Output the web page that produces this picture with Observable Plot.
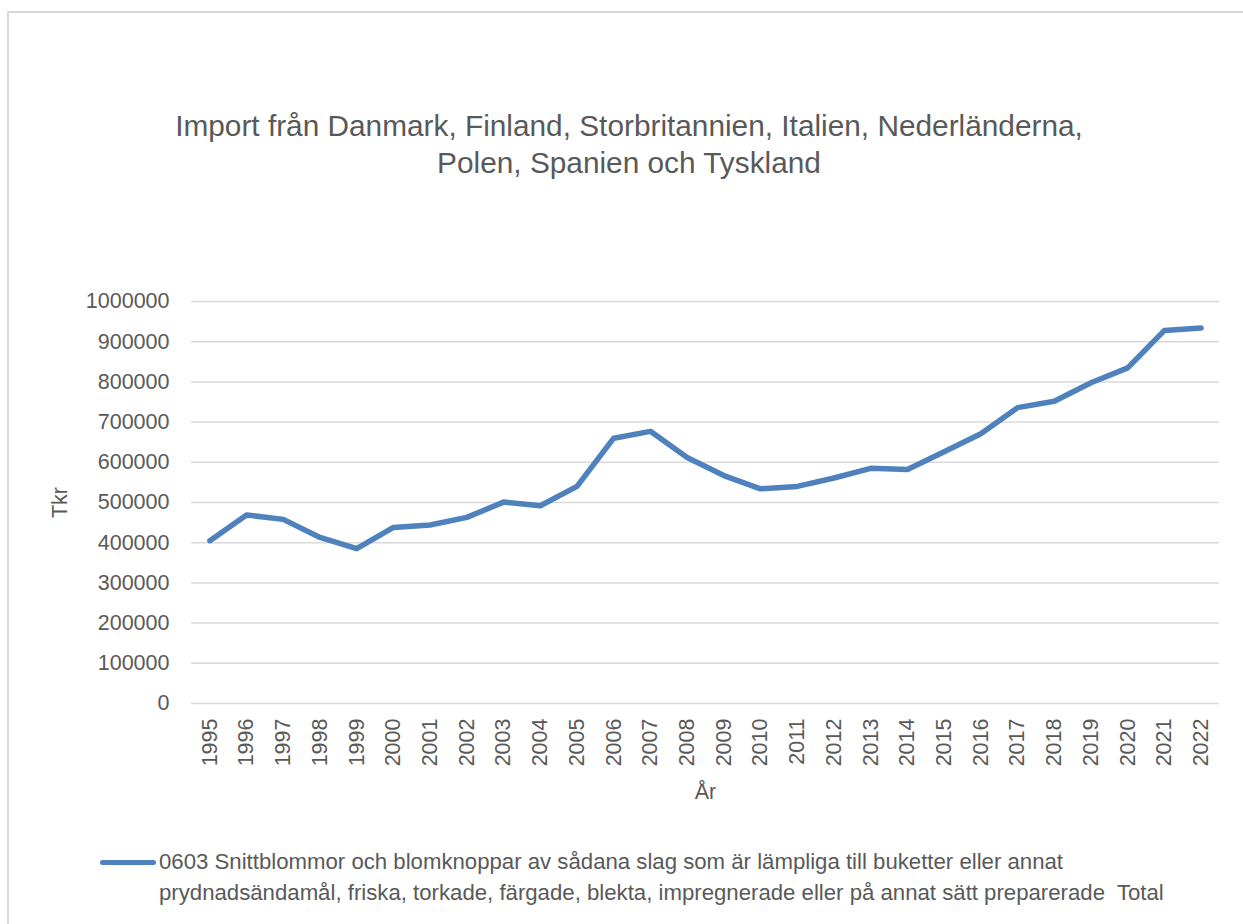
<!DOCTYPE html>
<html>
<head>
<meta charset="utf-8">
<script src="https://cdn.jsdelivr.net/npm/d3@7"></script>
<script src="https://cdn.jsdelivr.net/npm/@observablehq/plot@0.6"></script>
<style>
  html, body { margin: 0; padding: 0; background: #fff; }
  body { width: 1243px; height: 924px; position: relative; overflow: hidden; font-family: "Liberation Sans", Arial, sans-serif; color: #595959; }
  #frame { position: absolute; left: 7px; top: 11px; width: 1250px; height: 930px; border: 2px solid #d9d9d9; box-sizing: border-box; }
  #title { position: absolute; left: 0; width: 1258px; top: 107px; text-align: center; font-size: 29.8px; line-height: 37px; }
  #chart { position: absolute; left: 0; top: 200px; }
  #legend { position: absolute; left: 100px; top: 846px; display: flex; align-items: flex-start; font-size: 22.2px; line-height: 31px; white-space: nowrap; }
  #legend .sw { width: 56px; height: 5px; border-radius: 3px; background: #4f81bd; margin-top: 14px; margin-right: 3px; flex: none; }
</style>
</head>
<body>
<div id="frame"></div>
<div id="title">Import från Danmark, Finland, Storbritannien, Italien, Nederländerna,<br>Polen, Spanien och Tyskland</div>
<div id="chart"></div>
<div id="legend"><span class="sw"></span><span class="txt">0603 Snittblommor och blomknoppar av sådana slag som är lämpliga till buketter eller annat<br>prydnadsändamål, friska, torkade, färgade, blekta, impregnerade eller på annat sätt preparerade&nbsp; Total</span></div>
<script>
const years = ["1995","1996","1997","1998","1999","2000","2001","2002","2003","2004","2005","2006","2007","2008","2009","2010","2011","2012","2013","2014","2015","2016","2017","2018","2019","2020","2021","2022"];
const values = [405000,469000,458000,413000,385000,438000,444000,463000,501000,492000,540000,660000,677000,612000,567000,534000,540000,561000,585000,582000,626000,671000,736000,752000,798000,835000,928000,934000];
const yTicks = [0,100000,200000,300000,400000,500000,600000,700000,800000,900000,1000000];
const yLabel = "Tkr";
const xLabel = "År";

const data = years.map((y, i) => ({year: y, value: values[i]}));

const chart = Plot.plot({
  width: 1243,
  height: 620,
  marginTop: 101,
  marginBottom: 117,
  marginLeft: 191,
  marginRight: 24,
  style: {fontFamily: "Liberation Sans, Arial, sans-serif", color: "#595959", background: "transparent", overflow: "visible"},
  x: {type: "point", domain: years, padding: 0.5, round: false},
  y: {domain: [0, 1000000]},
  marks: [
    Plot.gridY(yTicks, {stroke: "#d9d9d9", strokeOpacity: 1, strokeWidth: 1.5}),
    Plot.axisY(yTicks, {tickSize: 0, tickPadding: 22, fontSize: 21.5, tickFormat: d => String(d),
      label: yLabel, labelAnchor: "center", labelArrow: "none", labelOffset: 140}),
    Plot.axisX({tickRotate: -90, tickSize: 0, tickPadding: 15, fontSize: 21.5,
      label: xLabel, labelAnchor: "center", labelArrow: "none", labelOffset: 95}),
    Plot.lineY(data, {x: "year", y: "value", stroke: "#4f81bd", strokeWidth: 5.5, strokeLinejoin: "round", strokeLinecap: "round"})
  ]
});
document.getElementById("chart").appendChild(chart);
</script>
</body>
</html>
